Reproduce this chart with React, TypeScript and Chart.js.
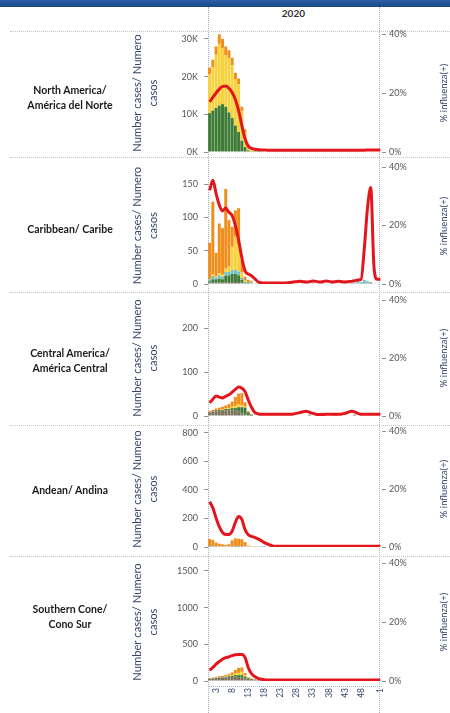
import React, { useEffect, useRef } from "react";
import { Chart, registerables } from "chart.js";

Chart.register(...registerables);

const FONT = "Lato, 'Open Sans', 'DejaVu Sans', sans-serif";

// ---- categories (epi weeks 2020 1..53, then 2021 week 1) ----
const WEEK_LABELS = [
  "1", "2", "3", "4", "5", "6", "7", "8", "9", "10",
  "11", "12", "13", "14", "15", "16", "17", "18", "19", "20",
  "21", "22", "23", "24", "25", "26", "27", "28", "29", "30",
  "31", "32", "33", "34", "35", "36", "37", "38", "39", "40",
  "41", "42", "43", "44", "45", "46", "47", "48", "49", "50",
  "51", "52", "53", "1",
];
const X_TICK_LABELS = ["3", "8", "13", "18", "23", "28", "33", "38", "43", "48", "1"];
const X_TICK_INDEX = [2, 7, 12, 17, 22, 27, 32, 37, 42, 47, 53];

// ---- North America ----
const NA_GREEN = [
  10300, 11000, 11700, 12300, 12700, 12000, 10500, 9000, 7000, 5300,
  3000, 1300, 400, 100, 50, 20, 0, 0, 0, 0,
  0, 0, 0, 0, 0, 0, 0, 0, 0, 0,
  0, 0, 0, 0, 0, 0, 0, 0, 0, 0,
  0, 0, 0, 0, 0, 0, 0, 0, 0, 0,
  0, 0, 0, 0,
];
const NA_YELLOW = [
  10300, 11500, 14100, 16400, 14900, 13700, 14300, 14000, 12200, 12600,
  7900, 4000, 1100, 300, 100, 50, 0, 0, 0, 0,
  0, 0, 0, 0, 0, 0, 0, 0, 0, 0,
  0, 0, 0, 0, 0, 0, 0, 0, 0, 0,
  0, 0, 0, 0, 0, 0, 0, 0, 0, 0,
  0, 0, 0, 0,
];
const NA_ORANGE = [
  1800, 2000, 2200, 2500, 2400, 2300, 2200, 2000, 1800, 1600,
  1100, 700, 300, 100, 50, 30, 0, 0, 0, 0,
  0, 0, 0, 0, 0, 0, 0, 0, 0, 0,
  0, 0, 0, 0, 0, 0, 0, 0, 0, 0,
  0, 0, 0, 0, 0, 0, 0, 0, 0, 0,
  0, 0, 0, 0,
];
const NA_POS = [
  17, 18.5, 20, 21.3, 22.2, 22.4, 21.6, 20.2, 17.8, 14,
  9, 4.5, 2, 1.2, 0.9, 0.8, 0.7, 0.7, 0.6, 0.6,
  0.6, 0.6, 0.6, 0.6, 0.6, 0.6, 0.6, 0.6, 0.6, 0.6,
  0.6, 0.6, 0.6, 0.6, 0.6, 0.6, 0.6, 0.6, 0.6, 0.6,
  0.6, 0.6, 0.6, 0.6, 0.6, 0.6, 0.6, 0.6, 0.6, 0.7,
  0.7, 0.7, 0.7, 0.7,
];
const NA_LEFT_TICKS = [0, 10000, 20000, 30000];
const NA_LEFT_LABELS = ["0K", "10K", "20K", "30K"];

// ---- Caribbean ----
const CB_GREY = [
  2, 3, 2, 2, 2, 2, 3, 3, 3, 3,
  2, 1, 1, 1, 1, 0, 0, 0, 0, 0,
  0, 0, 0, 0, 0, 0, 0, 0, 0, 1,
  0, 0, 1, 0, 0, 1, 0, 0, 1, 0,
  0, 1, 0, 0, 1, 0, 1, 1, 2, 1,
  2, 1, 0, 0,
];
const CB_GREEN = [
  2, 4, 5, 6, 5, 10, 10, 12, 12, 10,
  4, 1, 1, 0, 0, 0, 0, 0, 0, 0,
  0, 0, 0, 0, 0, 0, 0, 0, 0, 0,
  0, 0, 0, 0, 0, 0, 0, 0, 0, 0,
  0, 0, 0, 0, 0, 0, 0, 0, 0, 0,
  0, 0, 0, 0,
];
const CB_TEAL = [
  3, 5, 3, 5, 4, 6, 5, 6, 6, 6,
  3, 1, 1, 1, 0, 0, 0, 0, 0, 0,
  0, 0, 0, 0, 0, 0, 0, 0, 1, 0,
  2, 0, 1, 0, 0, 2, 1, 0, 3, 1,
  0, 0, 2, 0, 1, 2, 3, 2, 4, 3,
  1, 0, 0, 0,
];
const CB_YELLOW = [
  0, 2, 2, 3, 3, 5, 8, 35, 50, 40,
  8, 2, 0, 0, 0, 0, 0, 0, 0, 0,
  0, 0, 0, 0, 0, 0, 0, 0, 0, 0,
  0, 0, 0, 0, 0, 0, 0, 0, 0, 0,
  0, 0, 0, 0, 0, 0, 0, 0, 0, 0,
  0, 0, 0, 0,
];
const CB_ORANGE = [
  55, 110, 35, 75, 70, 120, 70, 30, 40, 55,
  20, 6, 3, 2, 0, 0, 0, 0, 0, 0,
  0, 0, 0, 0, 0, 0, 0, 0, 0, 0,
  0, 0, 0, 0, 0, 0, 0, 0, 0, 0,
  0, 0, 0, 0, 0, 0, 0, 0, 0, 0,
  0, 0, 0, 0,
];
const CB_POS = [
  32, 35.5, 31, 27, 25, 26, 24.5, 23.4, 20, 15,
  9, 4.5, 3.4, 2.8, 1.8, 0.8, 0.4, 0.3, 0.3, 0.3,
  0.3, 0.3, 0.3, 0.3, 0.4, 0.5, 0.7, 0.8, 0.9, 0.8,
  0.7, 0.8, 1.0, 0.9, 0.7, 0.8, 1.0, 0.9, 0.7, 0.8,
  0.9, 0.8, 0.7, 0.8, 0.9, 1.1, 1.4, 1.6, 12, 26,
  33, 6, 1.6, 1.6,
];
const CB_LEFT_TICKS = [0, 50, 100, 150];
const CB_LEFT_LABELS = ["0", "50", "100", "150"];

// ---- Central America ----
const CA_GREY = [
  8, 10, 11, 12, 12, 13, 13, 14, 12, 10,
  6, 3, 2, 1, 0, 0, 0, 0, 0, 0,
  0, 0, 0, 0, 0, 0, 0, 0, 0, 0,
  0, 3, 0, 0, 0, 0, 0, 0, 0, 3,
  0, 0, 0, 0, 0, 3, 0, 0, 0, 0,
  0, 0, 0, 0,
];
const CA_GREEN = [
  1, 1, 2, 2, 2, 3, 3, 4, 6, 10,
  14, 16, 6, 2, 0, 0, 0, 0, 0, 0,
  0, 0, 0, 0, 0, 0, 0, 0, 0, 0,
  0, 0, 0, 0, 0, 0, 0, 0, 0, 0,
  0, 0, 0, 0, 0, 0, 0, 0, 0, 0,
  0, 0, 0, 0,
];
const CA_YELLOW = [
  0, 0, 0, 0, 1, 1, 2, 3, 5, 6,
  4, 2, 0, 0, 0, 0, 0, 0, 0, 0,
  0, 0, 0, 0, 0, 0, 0, 0, 0, 0,
  0, 0, 0, 0, 0, 0, 0, 0, 0, 0,
  0, 0, 0, 0, 0, 0, 0, 0, 0, 0,
  0, 0, 0, 0,
];
const CA_ORANGE = [
  2, 3, 4, 5, 6, 7, 9, 12, 20, 25,
  28, 10, 3, 1, 0, 0, 0, 0, 0, 0,
  0, 0, 0, 0, 0, 0, 0, 0, 0, 0,
  0, 0, 0, 0, 0, 0, 0, 0, 0, 0,
  0, 0, 0, 0, 0, 0, 0, 0, 0, 0,
  0, 0, 0, 0,
];
const CA_POS = [
  4.6, 5.8, 6.9, 6.5, 6.2, 6.8, 7.3, 8.2, 9.2, 10,
  9.6, 8.4, 5.5, 3, 1.2, 0.8, 0.6, 0.6, 0.6, 0.6,
  0.6, 0.6, 0.6, 0.6, 0.6, 0.6, 0.7, 0.9, 1.2, 1.5,
  1.6, 1.3, 0.9, 0.6, 0.5, 0.5, 0.6, 0.6, 0.6, 0.6,
  0.6, 0.7, 0.9, 1.3, 1.6, 1.4, 0.9, 0.6, 0.6, 0.6,
  0.6, 0.6, 0.6, 0.6,
];
const CA_LEFT_TICKS = [0, 100, 200];
const CA_LEFT_LABELS = ["0", "100", "200"];

// ---- Andean ----
const AN_GREY = [
  8, 8, 6, 5, 4, 4, 5, 7, 8, 8,
  7, 5, 4, 3, 2, 2, 1, 1, 0, 0,
  0, 0, 0, 0, 0, 0, 0, 0, 0, 0,
  0, 0, 0, 0, 0, 0, 0, 0, 0, 0,
  0, 0, 0, 0, 0, 0, 0, 0, 0, 0,
  0, 0, 0, 0,
];
const AN_ORANGE = [
  48, 42, 25, 18, 14, 10, 15, 40, 52, 50,
  48, 30, 6, 2, 1, 0, 0, 0, 0, 0,
  0, 0, 0, 0, 0, 0, 0, 0, 0, 0,
  0, 0, 0, 0, 0, 0, 0, 0, 0, 0,
  0, 0, 0, 0, 0, 0, 0, 0, 0, 0,
  0, 0, 0, 0,
];
const AN_POS = [
  15.6, 13.5, 10, 7, 5, 4.3, 4.3, 5.5, 8.5, 10.5,
  9.5, 6, 4.2, 3.7, 3.3, 2.8, 2.2, 1.5, 1.0, 0.6,
  0.3, 0.3, 0.3, 0.3, 0.3, 0.3, 0.3, 0.3, 0.3, 0.3,
  0.3, 0.3, 0.3, 0.3, 0.3, 0.3, 0.3, 0.3, 0.3, 0.3,
  0.3, 0.3, 0.3, 0.3, 0.3, 0.3, 0.3, 0.3, 0.3, 0.3,
  0.3, 0.3, 0.3, 0.3,
];
const AN_LEFT_TICKS = [0, 200, 400, 600, 800];
const AN_LEFT_LABELS = ["0", "200", "400", "600", "800"];

// ---- Southern Cone ----
const SC_GREY = [
  30, 35, 40, 45, 45, 50, 55, 55, 60, 55,
  45, 35, 30, 25, 20, 15, 10, 5, 0, 0,
  0, 0, 0, 0, 0, 0, 0, 0, 0, 0,
  0, 0, 0, 0, 0, 0, 0, 0, 0, 0,
  0, 0, 0, 0, 0, 0, 0, 0, 0, 0,
  0, 0, 0, 0,
];
const SC_GREEN = [
  3, 3, 4, 5, 6, 8, 10, 15, 20, 25,
  35, 25, 10, 4, 2, 0, 0, 0, 0, 0,
  0, 0, 0, 0, 0, 0, 0, 0, 0, 0,
  0, 0, 0, 0, 0, 0, 0, 0, 0, 0,
  0, 0, 0, 0, 0, 0, 0, 0, 0, 0,
  0, 0, 0, 0,
];
const SC_YELLOW = [
  0, 0, 2, 3, 4, 5, 8, 12, 20, 30,
  45, 20, 5, 2, 0, 0, 0, 0, 0, 0,
  0, 0, 0, 0, 0, 0, 0, 0, 0, 0,
  0, 0, 0, 0, 0, 0, 0, 0, 0, 0,
  0, 0, 0, 0, 0, 0, 0, 0, 0, 0,
  0, 0, 0, 0,
];
const SC_ORANGE = [
  5, 8, 10, 12, 15, 18, 25, 35, 50, 70,
  60, 30, 10, 4, 2, 1, 0, 0, 0, 0,
  0, 0, 0, 0, 0, 0, 0, 0, 0, 0,
  0, 0, 0, 0, 0, 0, 0, 0, 0, 0,
  0, 0, 0, 0, 0, 0, 0, 0, 0, 0,
  0, 0, 0, 0,
];
const SC_POS = [
  3.6, 4.6, 5.7, 6.6, 7.4, 7.9, 8.2, 8.6, 8.9, 9.0,
  9.0, 8.0, 4.5, 2.5, 1.5, 0.9, 0.6, 0.4, 0.3, 0.3,
  0.3, 0.3, 0.3, 0.3, 0.3, 0.3, 0.3, 0.3, 0.3, 0.3,
  0.3, 0.3, 0.3, 0.3, 0.3, 0.3, 0.3, 0.3, 0.3, 0.3,
  0.3, 0.3, 0.3, 0.3, 0.3, 0.3, 0.3, 0.3, 0.3, 0.3,
  0.3, 0.3, 0.3, 0.3,
];
const SC_LEFT_TICKS = [0, 500, 1000, 1500];
const SC_LEFT_LABELS = ["0", "500", "1000", "1500"];

const RIGHT_TICKS = [0, 20, 40];
const RIGHT_LABELS = ["0%", "20%", "40%"];

// ---- styling ----
const SERIES = [
  { key: "grey", label: "A(H3N2)", color: "#7b725c" },
  { key: "green", label: "A(H1N1)pdm09", color: "#3e7b36" },
  { key: "teal", label: "B Yamagata", color: "#72c0c4" },
  { key: "yellow", label: "B Victoria", color: "#f6d23e" },
  { key: "orange", label: "A no subtipificado", color: "#f08e1c" },
];
const RED = "#e3161d";

const PAD_LEFT = 125;
const PLOT_LEFT = 208;
const PLOT_RIGHT = 382;
const DIVIDER_X = PLOT_LEFT + (53 * (PLOT_RIGHT - PLOT_LEFT)) / 54;

type Row = {
  name: string[];
  labelY: number;
  plotTop: number;
  plotBottom: number;
  canvasTop: number;
  canvasBottom: number;
  leftMax: number;
  leftTicks: number[];
  leftLabels: string[];
  series: Record<string, number[]>;
  pos: number[];
  showX: boolean;
};

const ROWS: Row[] = [
  {
    name: ["North America/", "América del Norte"], labelY: 98,
    plotTop: 34, plotBottom: 152, canvasTop: 22, canvasBottom: 158,
    leftMax: 31300, leftTicks: NA_LEFT_TICKS, leftLabels: NA_LEFT_LABELS,
    series: { green: NA_GREEN, yellow: NA_YELLOW, orange: NA_ORANGE }, pos: NA_POS, showX: false,
  },
  {
    name: ["Caribbean/ Caribe"], labelY: 229,
    plotTop: 167, plotBottom: 284, canvasTop: 155, canvasBottom: 290,
    leftMax: 176, leftTicks: CB_LEFT_TICKS, leftLabels: CB_LEFT_LABELS,
    series: { grey: CB_GREY, green: CB_GREEN, teal: CB_TEAL, yellow: CB_YELLOW, orange: CB_ORANGE }, pos: CB_POS, showX: false,
  },
  {
    name: ["Central America/", "América Central"], labelY: 361,
    plotTop: 300, plotBottom: 416, canvasTop: 288, canvasBottom: 422,
    leftMax: 264, leftTicks: CA_LEFT_TICKS, leftLabels: CA_LEFT_LABELS,
    series: { grey: CA_GREY, green: CA_GREEN, yellow: CA_YELLOW, orange: CA_ORANGE }, pos: CA_POS, showX: false,
  },
  {
    name: ["Andean/ Andina"], labelY: 490,
    plotTop: 431, plotBottom: 547, canvasTop: 419, canvasBottom: 553,
    leftMax: 814, leftTicks: AN_LEFT_TICKS, leftLabels: AN_LEFT_LABELS,
    series: { grey: AN_GREY, orange: AN_ORANGE }, pos: AN_POS, showX: false,
  },
  {
    name: ["Southern Cone/", "Cono Sur"], labelY: 617,
    plotTop: 563, plotBottom: 681, canvasTop: 551, canvasBottom: 713,
    leftMax: 1609, leftTicks: SC_LEFT_TICKS, leftLabels: SC_LEFT_LABELS,
    series: { grey: SC_GREY, green: SC_GREEN, yellow: SC_YELLOW, orange: SC_ORANGE }, pos: SC_POS, showX: true,
  },
];

const SEPARATORS = [31, 157, 292, 425, 556];

function RegionChart({ row }: { row: Row }) {
  const ref = useRef<HTMLCanvasElement | null>(null);
  const h = row.canvasBottom - row.canvasTop;

  useEffect(() => {
    const canvas = ref.current;
    if (!canvas) return;
    const bars: any[] = SERIES.filter((s) => row.series[s.key]).map((s) => ({
      type: "bar",
      label: s.label,
      data: row.series[s.key],
      backgroundColor: s.color,
      borderWidth: 0,
      yAxisID: "y",
      stack: "virus",
      order: 1,
      barPercentage: 1,
      categoryPercentage: 0.92,
    }));
    const line: any = {
      type: "line",
      label: "% influenza(+)",
      data: row.pos,
      yAxisID: "y1",
      borderColor: RED,
      borderWidth: 3,
      pointRadius: 0,
      cubicInterpolationMode: "monotone",
      fill: false,
      order: 0,
    };
    const tickFont = { family: FONT, size: 9 };
    const chart = new Chart(canvas, {
      type: "bar",
      data: { labels: WEEK_LABELS, datasets: [...bars, line] },
      options: {
        responsive: false,
        maintainAspectRatio: false,
        animation: false,
        layout: { padding: { left: PAD_LEFT, right: 0, top: row.plotTop - row.canvasTop, bottom: 0 } },
        plugins: { legend: { display: false }, tooltip: { enabled: false }, title: { display: false } },
        scales: {
          x: {
            stacked: true,
            grid: { display: false, drawTicks: false },
            border: { display: false },
            ticks: {
              display: row.showX,
              autoSkip: false,
              minRotation: 90,
              maxRotation: 90,
              padding: 7,
              color: "#3b4c74",
              font: { family: FONT, size: 8.5 },
              callback: (_v: any, i: number) => {
                const k = X_TICK_INDEX.indexOf(i);
                return k >= 0 ? X_TICK_LABELS[k] : "";
              },
            },
            afterFit: (s: any) => {
              s.height = row.canvasBottom - row.plotBottom;
              s.paddingLeft = 0;
              s.paddingRight = 0;
            },
          },
          y: {
            position: "left",
            stacked: true,
            min: 0,
            max: row.leftMax,
            grid: { drawOnChartArea: false, drawTicks: true, tickLength: 4, color: "#8793ab" },
            border: { display: false },
            ticks: {
              padding: 6,
              color: "#555",
              font: tickFont,
              callback: (_v: any, i: number) => row.leftLabels[i],
            },
            afterBuildTicks: (axis: any) => {
              axis.ticks = row.leftTicks.map((v) => ({ value: v }));
            },
            title: {
              display: true,
              text: ["Number cases/ Numero", "casos"],
              color: "#34466e",
              font: { family: FONT, size: 11.2, lineHeight: 1.45 },
              padding: { top: 4, bottom: 0 },
            },
            afterFit: (s: any) => {
              s.width = PLOT_LEFT - PAD_LEFT;
              s.paddingTop = 0;
              s.paddingBottom = 0;
            },
          },
          y1: {
            position: "right",
            min: 0,
            max: 40,
            grid: { drawOnChartArea: false, drawTicks: true, tickLength: 4, color: "#8793ab" },
            border: { display: false },
            ticks: {
              padding: 3,
              color: "#555",
              font: tickFont,
              callback: (_v: any, i: number) => RIGHT_LABELS[i],
            },
            afterBuildTicks: (axis: any) => {
              axis.ticks = RIGHT_TICKS.map((v) => ({ value: v }));
            },
            afterFit: (s: any) => {
              s.width = 450 - PLOT_RIGHT;
              s.paddingTop = 0;
              s.paddingBottom = 0;
            },
          },
        },
      } as any,
    });
    return () => chart.destroy();
  }, []);

  return (
    <canvas
      ref={ref}
      width={450}
      height={h}
      style={{ position: "absolute", left: 0, top: row.canvasTop, width: 450, height: h }}
    />
  );
}

export default function App() {
  return (
    <div
      style={{
        position: "absolute",
        left: 0,
        top: 0,
        width: 450,
        height: 713,
        background: "#fff",
        overflow: "hidden",
        fontFamily: FONT,
      }}
    >
      <div style={{ position: "absolute", left: 0, top: 0, width: 450, height: 7, background: "linear-gradient(#2b5fa6, #174784)" }} />
      <div
        style={{
          position: "absolute", left: PLOT_LEFT, width: DIVIDER_X - PLOT_LEFT, top: 7, textAlign: "center",
          fontWeight: 700, fontSize: 10, color: "#333", lineHeight: "12px",
        }}
      >
        2020
      </div>
      {SEPARATORS.map((y) => (
        <div key={y} style={{ position: "absolute", left: 10, width: 440, top: y, height: 0, borderTop: "1px dotted #c4c4c4" }} />
      ))}
      <div style={{ position: "absolute", left: PLOT_LEFT, top: 7, height: 706, width: 0, borderLeft: "1px dotted #a5b2cc" }} />
      <div style={{ position: "absolute", left: Math.round(DIVIDER_X), top: 7, height: 706, width: 0, borderLeft: "1px dotted #a5b2cc" }} />
      <div style={{ position: "absolute", left: PLOT_LEFT, top: 686, width: PLOT_RIGHT - PLOT_LEFT, height: 0, borderTop: "1px dotted #a5b2cc" }} />
      {ROWS.map((row, i) => (
        <RegionChart key={i} row={row} />
      ))}
      {ROWS.map((row, i) => (
        <div
          key={"l" + i}
          style={{
            position: "absolute", left: 5, width: 130, top: row.labelY - (row.name.length * 15) / 2,
            textAlign: "center", fontWeight: 700, fontSize: 10.5, lineHeight: "15px", color: "#1b1b1b",
          }}
        >
          {row.name.map((t, j) => (
            <div key={j}>{t}</div>
          ))}
        </div>
      ))}
      {ROWS.map((row, i) => (
        <div
          key={"r" + i}
          style={{
            position: "absolute", left: 443, top: (row.plotTop + row.plotBottom) / 2,
            transform: "translate(-50%, -50%) rotate(-90deg)", whiteSpace: "nowrap",
            fontSize: 9.5, color: "#34466e",
          }}
        >
          % influenza(+)
        </div>
      ))}
    </div>
  );
}
